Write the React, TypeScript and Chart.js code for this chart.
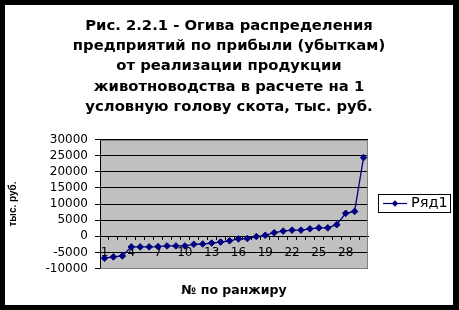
import React, { useEffect, useRef } from 'react';
import { Chart, registerables } from 'chart.js';

Chart.register(...registerables);

// ---- data ----
const categories = ['1', '2', '3', '4', '5', '6', '7', '8', '9', '10', '11', '12', '13', '14', '15', '16', '17', '18', '19', '20', '21', '22', '23', '24', '25', '26', '27', '28', '29', '30'];
const seriesName = 'Ряд1';
const values = [-6800, -6400, -6100, -3300, -3300, -3300, -3200, -3000, -3000, -3000, -2500, -2400, -2100, -1800, -1400, -800, -700, -100, 300, 1100, 1600, 1900, 1900, 2300, 2600, 2600, 3600, 7100, 7700, 24400];
const yMin = -10000;
const yMax = 30000;
const yStep = 5000;
const labelEvery = 3;
const titleLines = [
  'Рис. 2.2.1 - Огива распределения',
  'предприятий по прибыли (убыткам)',
  'от реализации продукции',
  'животноводства в расчете на 1',
  'условную голову скота, тыс. руб.',
];
const xTitle = '№ по ранжиру';
const yTitle = 'тыс. руб.';

const SERIES_COLOR = '#000080';
const PLOT_BG = '#C0C0C0';
const PLOT_BORDER = '#808080';

const plotBackground = {
  id: 'plotBackground',
  beforeDraw(chart: any) {
    const { ctx, chartArea: a } = chart;
    ctx.save();
    ctx.fillStyle = PLOT_BG;
    ctx.fillRect(a.left, a.top, a.right - a.left, a.bottom - a.top);
    ctx.restore();
  },
  beforeDatasetsDraw(chart: any) {
    const { ctx, chartArea: a } = chart;
    const top = Math.round(a.top) + 0.5;
    const bottom = Math.round(a.bottom) - 0.5;
    const right = Math.round(a.right) - 0.5;
    const left = Math.round(a.left) + 0.5;
    ctx.save();
    ctx.strokeStyle = PLOT_BORDER;
    ctx.lineWidth = 1;
    ctx.beginPath();
    ctx.moveTo(left, top);
    ctx.lineTo(right, top);
    ctx.lineTo(right, bottom);
    ctx.lineTo(left, bottom);
    ctx.stroke();
    ctx.restore();
  },
};

const boxedLegend = {
  id: 'boxedLegend',
  afterDraw(chart: any) {
    const { ctx } = chart;
    const ds = chart.data.datasets[0];
    const bx = 373, by = 189, bw = 72, bh = 18;
    const cy = by + bh / 2 + 0.5;
    ctx.save();
    ctx.fillStyle = '#fff';
    ctx.fillRect(bx, by, bw, bh);
    ctx.strokeStyle = '#000';
    ctx.lineWidth = 1;
    ctx.strokeRect(bx + 0.5, by + 0.5, bw, bh);
    ctx.strokeStyle = SERIES_COLOR;
    ctx.lineWidth = 1.2;
    ctx.beginPath();
    ctx.moveTo(bx + 5, cy);
    ctx.lineTo(bx + 29, cy);
    ctx.stroke();
    ctx.fillStyle = SERIES_COLOR;
    const px = bx + 17, r = 3.2;
    ctx.beginPath();
    ctx.moveTo(px, cy - r);
    ctx.lineTo(px + r, cy);
    ctx.lineTo(px, cy + r);
    ctx.lineTo(px - r, cy);
    ctx.closePath();
    ctx.fill();
    ctx.fillStyle = '#000';
    ctx.font = '14.5px "DejaVu Sans"';
    ctx.textBaseline = 'middle';
    ctx.textAlign = 'left';
    ctx.fillText(ds.label, bx + 33, cy);
    ctx.restore();
  },
};

export default function App() {
  const canvasRef = useRef<HTMLCanvasElement | null>(null);

  useEffect(() => {
    const canvas = canvasRef.current;
    if (!canvas) return;
    const chart = new Chart(canvas, {
      type: 'line',
      data: {
        labels: categories,
        datasets: [
          {
            label: seriesName,
            data: values,
            xAxisID: 'x',
            yAxisID: 'y',
            borderColor: SERIES_COLOR,
            backgroundColor: SERIES_COLOR,
            borderWidth: 1.3,
            tension: 0,
            pointStyle: 'rectRot',
            pointRadius: 3.3,
            pointBorderWidth: 1,
            pointBackgroundColor: SERIES_COLOR,
            pointBorderColor: SERIES_COLOR,
          },
        ],
      },
      options: {
        responsive: false,
        devicePixelRatio: 1,
        animation: false,
        layout: { padding: 0 },
        plugins: {
          legend: { display: false },
          tooltip: { enabled: false },
          title: {
            display: true,
            text: titleLines,
            color: '#000',
            fullSize: true,
            font: { family: 'DejaVu Sans', size: 14.8, weight: 'bold', lineHeight: '20.25px' },
            padding: { top: 11, bottom: 22.25 },
          },
        },
        scales: {
          y: {
            type: 'linear',
            position: 'left',
            min: yMin,
            max: yMax,
            ticks: {
              stepSize: yStep,
              autoSkip: false,
              padding: 7,
              color: '#000',
              font: { family: 'DejaVu Sans', size: 12 },
              callback: (v: any) => String(v),
            },
            grid: { color: '#000', tickColor: '#000', tickLength: 5, lineWidth: 1 },
            border: { display: true, color: '#000', width: 1 },
            title: {
              display: true,
              text: yTitle,
              color: '#000',
              font: { family: 'Liberation Sans', size: 10, weight: 'bold' },
              padding: { top: 2, bottom: 0 },
            },
            afterFit: (s: any) => { s.width = 95; },
          },
          x: {
            type: 'category',
            position: { y: 0 },
            offset: true,
            grid: {
              display: true,
              drawOnChartArea: false,
              drawTicks: true,
              tickLength: 3,
              color: '#000',
              tickColor: '#000',
              offset: true,
            },
            border: { display: true, color: '#000', width: 1 },
            ticks: {
              autoSkip: false,
              maxRotation: 0,
              minRotation: 0,
              padding: 6.5,
              color: '#000',
              font: { family: 'DejaVu Sans', size: 12 },
              callback: (_v: any, i: number) => (i % labelEvery === 0 ? categories[i] : ''),
            },
          },
          x2: {
            type: 'category',
            position: 'bottom',
            grid: { display: false },
            border: { display: false },
            ticks: { display: false },
            title: {
              display: true,
              text: xTitle,
              color: '#000',
              font: { family: 'DejaVu Sans', size: 12.5, weight: 'bold' },
              padding: { top: 0, bottom: 6.8 },
            },
            afterFit: (s: any) => { s.height = 36.5; },
          },
          y2: {
            type: 'linear',
            position: 'right',
            grid: { display: false },
            border: { display: false },
            ticks: { display: false },
            afterFit: (s: any) => { s.width = 85; },
          },
        },
      } as any,
      plugins: [plotBackground, boxedLegend],
    });
    return () => chart.destroy();
  }, []);

  return (
    <div style={{ position: 'absolute', left: 0, top: 0, width: 459, height: 310, background: '#000' }}>
      <canvas
        ref={canvasRef}
        width={448}
        height={300}
        style={{ position: 'absolute', left: 5, top: 5, width: 448, height: 300, background: '#fff' }}
      />
    </div>
  );
}
